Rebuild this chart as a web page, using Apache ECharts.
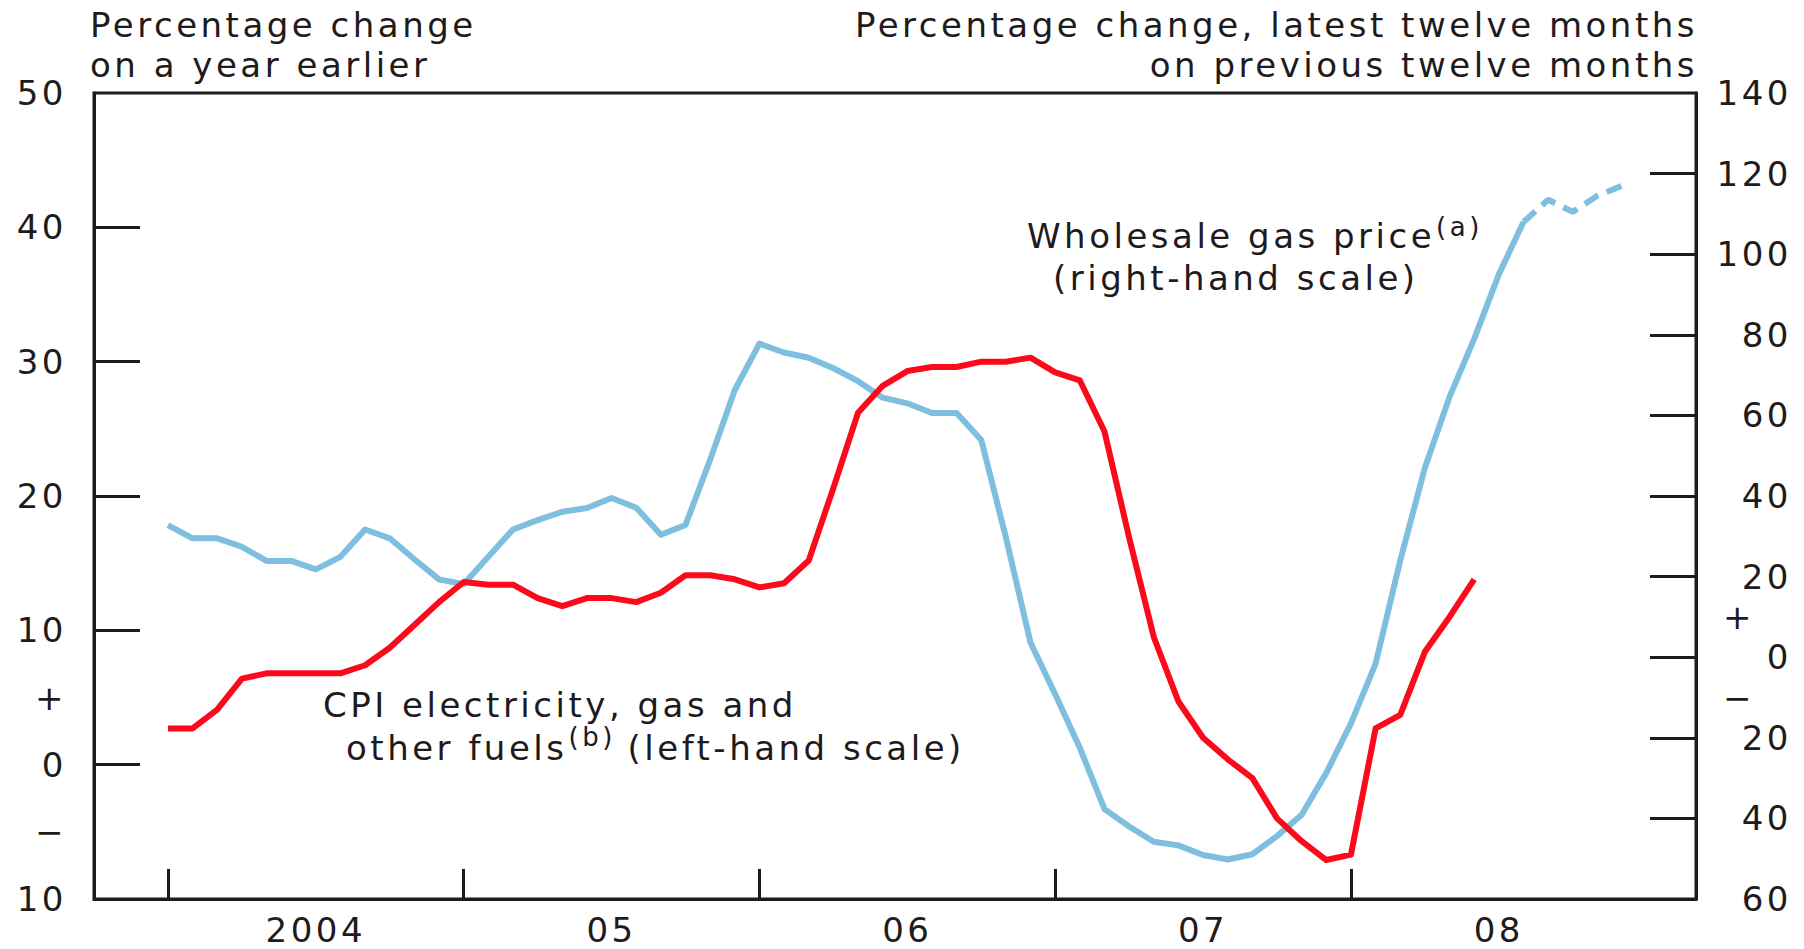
<!DOCTYPE html>
<html>
<head>
<meta charset="utf-8">
<script src="https://cdn.jsdelivr.net/npm/echarts@6/dist/echarts.min.js"></script>
<style>
html, body { margin: 0; padding: 0; background: #fff; }
#chart { width: 1804px; height: 949px; }
/* the original lettering is wide, spread the glyphs a little */
#chart svg text { letter-spacing: 3.5px; }
</style>
</head>
<body>
<div id="chart"></div>
<script>
// x values are months counted from January 2004
var yearTicks = [0, 12, 24, 36, 48];
var yearLabelPos = [6, 18, 30, 42, 54];
var yearLabels = ['2004', '05', '06', '07', '08'];

// left-hand scale, Jan 2004 - Jun 2008
var cpiFuels = [2.7, 2.7, 4.1, 6.4, 6.8, 6.8, 6.8, 6.8, 7.4, 8.7,
    10.4, 12.1, 13.6, 13.4, 13.4, 12.4, 11.8, 12.4, 12.4, 12.1,
    12.8, 14.1, 14.1, 13.8, 13.2, 13.5, 15.2, 20.6, 26.2, 28.2,
    29.3, 29.6, 29.6, 30.0, 30.0, 30.3, 29.2, 28.6, 24.8, 16.9,
    9.5, 4.7, 2.0, 0.4, -1.0, -4.0, -5.7, -7.1, -6.7, 2.7,
    3.7, 8.4, 11.0, 13.8];

// right-hand scale, Jan 2004 - Aug 2008
var gasPrice = [32.8, 29.5, 29.5, 27.4, 23.9, 23.9, 21.8, 24.9, 31.7, 29.5,
    24.3, 19.3, 18.1, 24.9, 31.7, 34.0, 36.1, 37.0, 39.5, 37.1,
    30.4, 32.8, 49.0, 66.3, 77.8, 75.6, 74.3, 71.7, 68.5, 64.4,
    63.0, 60.6, 60.6, 53.9, 29.7, 3.6, -9.2, -22.5, -37.7, -42.0,
    -45.8, -46.7, -49.1, -50.2, -48.9, -44.4, -39.1, -28.7, -16.4, -1.6,
    24.0, 47.0, 64.6, 79.0, 95.0, 108.0];
// dashed part, Aug 2008 - Dec 2008
var gasFutureStart = 55;
var gasFutures = [108.0, 113.5, 110.5, 114.5, 117.0];

var leftTicks = [0, 10, 20, 30, 40];
var leftLabels = [-10, -5, 0, 5, 10, 20, 30, 40, 50];
var rightTicks = [-40, -20, 0, 20, 40, 60, 80, 100, 120];
var rightLabels = [-60, -40, -20, -10, 0, 10, 20, 40, 60, 80, 100, 120, 140];

var FONT = '"DejaVu Sans", sans-serif';
var FS = 34;
var SUP = 26;
var LS = 3.5;
var INK = '#1f1b1c';
var RED = '#fb0a1c';
var BLUE = '#7ebfdf';

function toPoints(arr, start) {
    return arr.map(function (v, i) { return [start + i, v]; });
}

// width of a text run as drawn with the letter spacing above
var measureCtx = document.createElement('canvas').getContext('2d');
function textWidth(str, size) {
    measureCtx.font = size + 'px ' + FONT;
    return measureCtx.measureText(str).width + LS * str.length;
}

function txt(str, x, y, size, align) {
    return { type: 'text', x: x, y: y, style: {
        text: str, font: size + 'px ' + FONT, fill: INK,
        align: align || 'left', textAlign: align || 'left', verticalAlign: 'middle' } };
}

// annotations: a line of text followed by a raised note mark
var gasX = 1027;
var gasSupX = gasX + textWidth('Wholesale gas price', FS) + 1;
var cpiX = 346;
var cpiSupX = cpiX + textWidth('other fuels', FS) + 1;
var cpiRestX = cpiSupX + textWidth('(b) ', SUP);

var myChart = echarts.init(document.getElementById('chart'), null, { renderer: 'svg' });
var option = {
    animation: false,
    grid: {
        left: 94, right: 108, top: 93, bottom: 50,
        show: true, borderColor: INK, borderWidth: 3
    },
    xAxis: {
        type: 'value', min: -3, max: 62,
        splitLine: { show: false },
        axisLine: { onZero: false, lineStyle: { color: INK, width: 3 } },
        axisTick: { inside: true, length: 30, customValues: yearTicks,
            lineStyle: { color: INK, width: 3 } },
        axisLabel: {
            customValues: yearLabelPos,
            formatter: function (v) { return yearLabels[yearLabelPos.indexOf(v)]; },
            fontSize: FS, fontFamily: FONT, color: INK, margin: 14
        }
    },
    yAxis: [
        {
            type: 'value', min: -10, max: 50, position: 'left',
            splitLine: { show: false },
            axisLine: { show: true, onZero: false, lineStyle: { color: INK, width: 3 } },
            axisTick: { inside: true, length: 46, customValues: leftTicks,
                lineStyle: { color: INK, width: 3 } },
            axisLabel: {
                customValues: leftLabels,
                formatter: function (v) {
                    if (v === 5) return '+';
                    if (v === -5) return '\u2212';
                    return String(Math.abs(v));
                },
                fontSize: FS, fontFamily: FONT, color: INK, margin: 27
            }
        },
        {
            type: 'value', min: -60, max: 140, position: 'right',
            splitLine: { show: false },
            axisLine: { show: true, onZero: false, lineStyle: { color: INK, width: 3 } },
            axisTick: { inside: true, length: 46, customValues: rightTicks,
                lineStyle: { color: INK, width: 3 } },
            axisLabel: {
                customValues: rightLabels,
                formatter: function (v) {
                    if (v === 10) return '{pm|+}';
                    if (v === -10) return '{pm|\u2212}';
                    return String(Math.abs(v));
                },
                align: 'right',
                fontSize: FS, fontFamily: FONT, color: INK, margin: 96,
                rich: { pm: { fontSize: FS, fontFamily: FONT, color: INK, padding: [0, 37, 0, 0] } }
            }
        }
    ],
    graphic: [
        { type: 'text', x: 90, y: 5, style: {
            text: 'Percentage change\non a year earlier', font: FS + 'px ' + FONT,
            fill: INK, lineHeight: 40, align: 'left', verticalAlign: 'top' } },
        { type: 'text', x: 1698, y: 5, style: {
            text: 'Percentage change, latest twelve months\non previous twelve months',
            font: FS + 'px ' + FONT, fill: INK, lineHeight: 40, align: 'right', textAlign: 'right',
            verticalAlign: 'top' } },
        txt('Wholesale gas price', gasX, 236, FS),
        txt('(a)', gasSupX, 227, SUP),
        txt('(right-hand scale)', 1053, 278, FS),
        txt('CPI electricity, gas and', 323, 705, FS),
        txt('other fuels', cpiX, 748, FS),
        txt('(b)', cpiSupX, 737, SUP),
        txt('(left-hand scale)', cpiRestX, 748, FS)
    ],
    series: [
        {
            name: 'Wholesale gas price', type: 'line', yAxisIndex: 1,
            data: toPoints(gasPrice, 0), symbol: 'none', z: 2,
            lineStyle: { color: BLUE, width: 6, join: 'round' }
        },
        {
            name: 'Wholesale gas price (futures)', type: 'line', yAxisIndex: 1,
            data: toPoints(gasFutures, gasFutureStart), symbol: 'none', z: 2,
            lineStyle: { color: BLUE, width: 6, type: [16, 9] }
        },
        {
            name: 'CPI electricity, gas and other fuels', type: 'line', yAxisIndex: 0,
            data: toPoints(cpiFuels, 0), symbol: 'none', z: 3,
            lineStyle: { color: RED, width: 6, join: 'round' }
        }
    ]
};
myChart.setOption(option);
</script>
</body>
</html>
